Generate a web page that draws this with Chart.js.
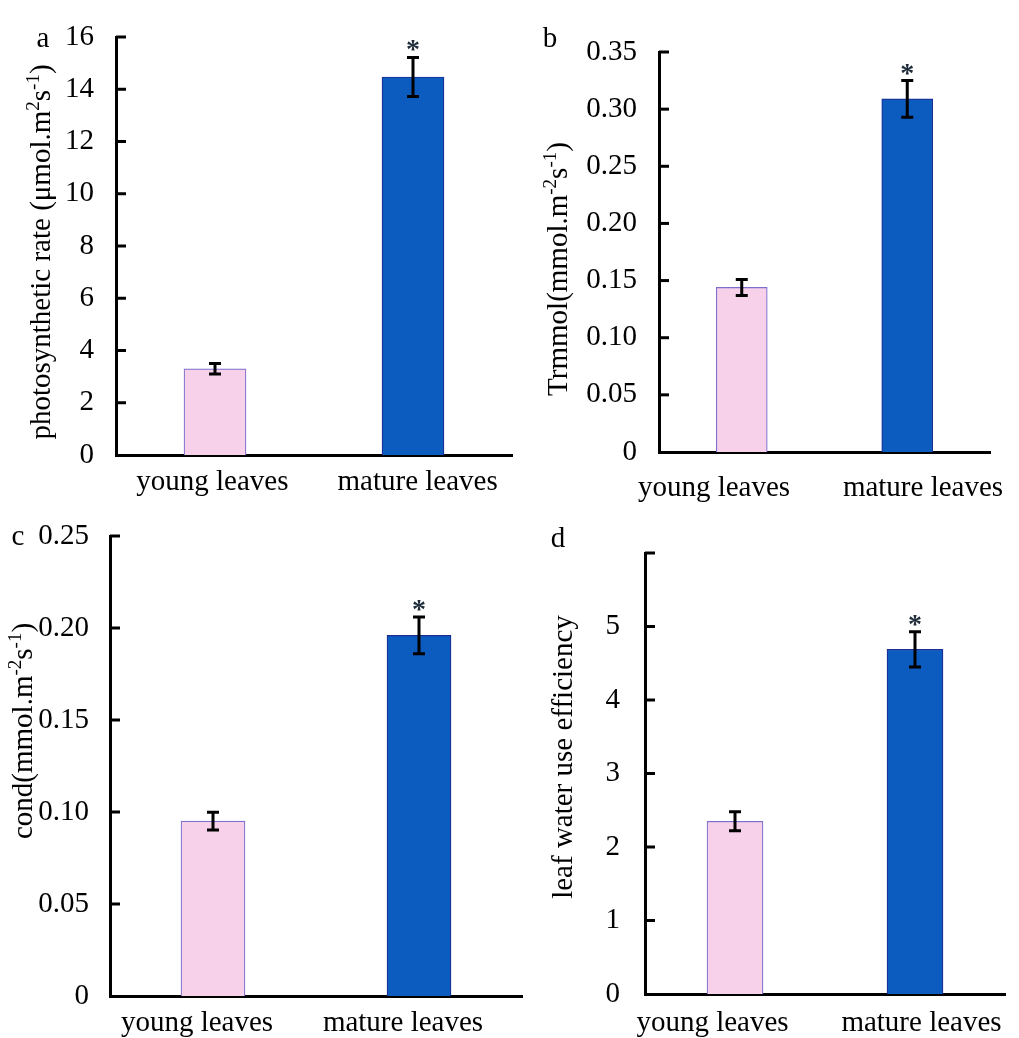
<!DOCTYPE html>
<html>
<head>
<meta charset="utf-8">
<script src="https://cdn.jsdelivr.net/npm/chart.js@4.4.0/dist/chart.umd.min.js"></script>
<style>
  body { margin: 0; background: #fff; }
  .panel { position: absolute; }
</style>
</head>
<body>
<script>
const categories = ['young leaves', 'mature leaves'];
const significant = [false, true];

const photoRate = [3.3, 14.47];
const photoRateErr = [0.2, 0.75];
const trmmol = [0.144, 0.309];
const trmmolErr = [0.007, 0.016];
const cond = [0.095, 0.196];
const condErr = [0.0048, 0.010];
const wue = [2.35, 4.69];
const wueErr = [0.13, 0.24];

const barFill = ['#f7d1ea', '#0b5cbe'];
const barEdge = ['#7d6fcc', '#1b2c95'];
const serif = "'Liberation Serif', 'Times New Roman', serif";

// draws a rotated title with superscript parts, baseline at page x = bx, centred on cy
function drawTitle(ctx, parts, bx, cy) {
  ctx.save();
  ctx.translate(bx, cy);
  ctx.rotate(-Math.PI / 2);
  ctx.fillStyle = '#000';
  ctx.textAlign = 'left';
  ctx.textBaseline = 'alphabetic';
  let w = 0;
  parts.forEach(p => {
    ctx.font = (p.sup ? 19 : 29) + 'px ' + serif;
    p.w = ctx.measureText(p.t).width;
    w += p.w;
  });
  let x = -w / 2;
  parts.forEach(p => {
    ctx.font = (p.sup ? 19 : 29) + 'px ' + serif;
    ctx.fillText(p.t, x, p.sup ? -11 : 0);
    x += p.w;
  });
  ctx.restore();
}

const extras = {
  id: 'extras',
  afterDatasetsDraw(chart, args, opts) {
    const ctx = chart.ctx, y = chart.scales.y, area = chart.chartArea;
    const meta = chart.getDatasetMeta(0);
    const vals = chart.data.datasets[0].data;
    ctx.save();
    ctx.strokeStyle = '#000';
    ctx.lineWidth = 3;
    // ticks point inward
    y.ticks.forEach(t => {
      if (t.value === 0) return;
      const py = y.getPixelForValue(t.value);
      ctx.beginPath();
      ctx.moveTo(area.left, py);
      ctx.lineTo(area.left + 10, py);
      ctx.stroke();
    });
    meta.data.forEach((bar, i) => {
      const hi = y.getPixelForValue(vals[i] + opts.err[i]);
      const lo = y.getPixelForValue(vals[i] - opts.err[i]);
      ctx.beginPath();
      ctx.moveTo(bar.x, hi); ctx.lineTo(bar.x, lo);
      ctx.moveTo(bar.x - 6, hi); ctx.lineTo(bar.x + 6, hi);
      ctx.moveTo(bar.x - 6, lo); ctx.lineTo(bar.x + 6, lo);
      ctx.stroke();
      if (significant[i]) {
        ctx.fillStyle = '#1d2b3a';
        ctx.font = 'bold 28px ' + serif;
        ctx.textAlign = 'center';
        ctx.textBaseline = 'alphabetic';
        ctx.fillText('*', bar.x, hi + 1);
      }
    });
    ctx.restore();
  },
  afterDraw(chart, args, opts) {
    const ctx = chart.ctx;
    const [ox, oy] = opts.origin;
    ctx.save();
    ctx.fillStyle = '#000';
    ctx.font = '29px ' + serif;
    ctx.textAlign = 'center';
    ctx.textBaseline = 'alphabetic';
    ctx.fillText(opts.letter[0], opts.letter[1] - ox, opts.letter[2] - oy);
    ctx.restore();
    drawTitle(ctx, opts.title, opts.titleAt[0] - ox, opts.titleAt[1] - oy);
  }
};

function makePanel(c) {
  const [ox, oy] = c.origin, [w, h] = c.size, [l, t, r, b] = c.area;
  const div = document.createElement('div');
  div.className = 'panel';
  div.style.cssText = `left:${ox}px;top:${oy}px;width:${w}px;height:${h}px`;
  const canvas = document.createElement('canvas');
  div.appendChild(canvas);
  document.body.appendChild(div);
  // labels sit a little wider apart than the bars in the original
  const gap = ' '.repeat(c.spread);

  new Chart(canvas, {
    type: 'bar',
    data: {
      labels: categories,
      datasets: [{
        data: c.values,
        backgroundColor: barFill,
        borderColor: barEdge,
        borderWidth: 1.2,
        barThickness: c.barWidth
      }]
    },
    options: {
      responsive: true,
      maintainAspectRatio: false,
      animation: false,
      layout: { padding: { left: 0, top: t - oy, right: ox + w - r, bottom: 0 } },
      plugins: {
        legend: { display: false },
        tooltip: { enabled: false },
        extras: { origin: c.origin, err: c.errors, letter: c.letter, title: c.title, titleAt: c.titleAt }
      },
      scales: {
        x: {
          grid: { display: false },
          border: { display: true, color: '#000', width: 3 },
          ticks: {
            color: '#000', padding: c.xPad, maxRotation: 0, minRotation: 0, autoSkip: false,
            labelOffset: c.xShift,
            callback: (v, i) => (i === 0 ? categories[i] + gap : gap + categories[i]),
            font: { family: serif, size: 29 }
          },
          afterFit: s => { s.height = oy + h - b; s.paddingLeft = 0; s.paddingRight = 0; }
        },
        y: {
          min: 0,
          max: c.max,
          grid: { display: false },
          border: { display: true, color: '#000', width: 3 },
          ticks: { stepSize: c.step, color: '#000', padding: c.yPad, font: { family: serif, size: 29 }, callback: c.fmt },
          afterFit: s => { s.width = l - ox; }
        }
      }
    },
    plugins: [extras]
  });
}

const dec2 = v => (v === 0 ? '0' : v.toFixed(2));

makePanel({
  origin: [0, 0], size: [520, 505], area: [116, 37, 512, 455],
  values: photoRate, errors: photoRateErr, max: 16, step: 2,
  barWidth: 62, yPad: 14, xPad: 2, xShift: 1, spread: 1, fmt: v => String(v),
  letter: ['a', 43, 47], titleAt: [50, 252],
  title: [{ t: 'photosynthetic rate (\u03bcmol.m' }, { t: '2', sup: 1 }, { t: 's' }, { t: '-1', sup: 1 }, { t: ')' }]
});

makePanel({
  origin: [510, 0], size: [509, 505], area: [659, 52, 990, 452],
  values: trmmol, errors: trmmolErr, max: 0.35, step: 0.05,
  barWidth: 51, yPad: 14, xPad: 11, xShift: -6, spread: 6, fmt: dec2,
  letter: ['b', 550, 47], titleAt: [567, 269],
  title: [{ t: 'Trmmol(mmol.m' }, { t: '-2', sup: 1 }, { t: 's' }, { t: '-1', sup: 1 }, { t: ')' }]
});

makePanel({
  origin: [0, 505], size: [530, 533], area: [110, 536, 522, 996],
  values: cond, errors: condErr, max: 0.25, step: 0.05,
  barWidth: 64, yPad: 13, xPad: 2, xShift: -16, spread: 0, fmt: dec2,
  letter: ['c', 18, 545], titleAt: [32, 731],
  title: [{ t: 'cond(mmol.m' }, { t: '-2', sup: 1 }, { t: 's' }, { t: '-1', sup: 1 }, { t: ')' }]
});

makePanel({
  origin: [510, 505], size: [509, 533], area: [645, 553, 1005, 994],
  values: wue, errors: wueErr, max: 6, step: 1,
  barWidth: 56, yPad: 17, xPad: 4, xShift: -8, spread: 4, fmt: v => (v === 6 ? '' : String(v)),
  letter: ['d', 558, 547], titleAt: [572, 757],
  title: [{ t: 'leaf water use efficiency' }]
});
</script>
</body>
</html>
